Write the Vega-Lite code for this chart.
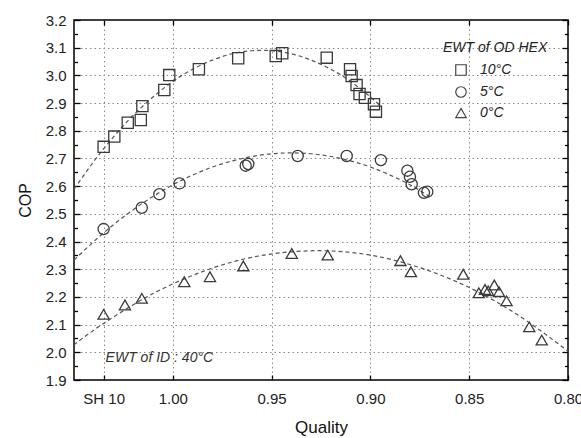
{
  "$schema": "https://vega.github.io/schema/vega-lite/v6.json",
  "width": 494,
  "height": 360,
  "autosize": "none",
  "padding": {"left": 74, "top": 20, "right": 13, "bottom": 58},
  "background": "white",
  "config": {
    "view": {"stroke": "#000", "strokeWidth": 1.5},
    "font": "Liberation Sans",
    "axis": {
      "domain": false,
      "labelFont": "Liberation Sans",
      "labelFontSize": 15,
      "labelColor": "#222",
      "titleFont": "Liberation Sans",
      "titleFontWeight": "normal",
      "titleColor": "#111",
      "tickColor": "#000",
      "tickWidth": 1.3,
      "gridColor": "#8a8a8a",
      "gridDash": [1.5, 3],
      "gridWidth": 1,
      "labelFlush": false,
      "labelOverlap": false,
      "labelBound": false,
      "zindex": 1
    },
    "legend": {
      "titleFont": "Liberation Sans",
      "titleFontStyle": "italic",
      "titleFontWeight": "normal",
      "titleFontSize": 14,
      "titleColor": "#222",
      "labelFont": "Liberation Sans",
      "labelFontStyle": "italic",
      "labelFontSize": 14,
      "labelColor": "#222"
    }
  },
  "datasets": {
    "pts": [
      {"q": 1.035, "cop": 2.742, "EWT": "10°C"},
      {"q": 1.0296, "cop": 2.779, "EWT": "10°C"},
      {"q": 1.0228, "cop": 2.829, "EWT": "10°C"},
      {"q": 1.0162, "cop": 2.839, "EWT": "10°C"},
      {"q": 1.0154, "cop": 2.889, "EWT": "10°C"},
      {"q": 1.0043, "cop": 2.947, "EWT": "10°C"},
      {"q": 1.0018, "cop": 3.001, "EWT": "10°C"},
      {"q": 0.9868, "cop": 3.022, "EWT": "10°C"},
      {"q": 0.9669, "cop": 3.062, "EWT": "10°C"},
      {"q": 0.9479, "cop": 3.07, "EWT": "10°C"},
      {"q": 0.9446, "cop": 3.08, "EWT": "10°C"},
      {"q": 0.9221, "cop": 3.064, "EWT": "10°C"},
      {"q": 0.9103, "cop": 3.022, "EWT": "10°C"},
      {"q": 0.9095, "cop": 2.998, "EWT": "10°C"},
      {"q": 0.907, "cop": 2.965, "EWT": "10°C"},
      {"q": 0.9055, "cop": 2.933, "EWT": "10°C"},
      {"q": 0.9028, "cop": 2.919, "EWT": "10°C"},
      {"q": 0.8982, "cop": 2.896, "EWT": "10°C"},
      {"q": 0.8972, "cop": 2.869, "EWT": "10°C"},
      {"q": 1.035, "cop": 2.445, "EWT": "5°C"},
      {"q": 1.0157, "cop": 2.522, "EWT": "5°C"},
      {"q": 1.0068, "cop": 2.571, "EWT": "5°C"},
      {"q": 0.9966, "cop": 2.61, "EWT": "5°C"},
      {"q": 0.9631, "cop": 2.674, "EWT": "5°C"},
      {"q": 0.9618, "cop": 2.68, "EWT": "5°C"},
      {"q": 0.9368, "cop": 2.709, "EWT": "5°C"},
      {"q": 0.912, "cop": 2.709, "EWT": "5°C"},
      {"q": 0.8947, "cop": 2.694, "EWT": "5°C"},
      {"q": 0.8813, "cop": 2.656, "EWT": "5°C"},
      {"q": 0.88, "cop": 2.634, "EWT": "5°C"},
      {"q": 0.8791, "cop": 2.607, "EWT": "5°C"},
      {"q": 0.8729, "cop": 2.576, "EWT": "5°C"},
      {"q": 0.8712, "cop": 2.58, "EWT": "5°C"},
      {"q": 1.035, "cop": 2.137, "EWT": "0°C"},
      {"q": 1.0242, "cop": 2.171, "EWT": "0°C"},
      {"q": 1.0157, "cop": 2.195, "EWT": "0°C"},
      {"q": 0.9942, "cop": 2.255, "EWT": "0°C"},
      {"q": 0.9812, "cop": 2.273, "EWT": "0°C"},
      {"q": 0.9643, "cop": 2.312, "EWT": "0°C"},
      {"q": 0.9398, "cop": 2.357, "EWT": "0°C"},
      {"q": 0.9216, "cop": 2.351, "EWT": "0°C"},
      {"q": 0.8848, "cop": 2.331, "EWT": "0°C"},
      {"q": 0.8795, "cop": 2.291, "EWT": "0°C"},
      {"q": 0.853, "cop": 2.282, "EWT": "0°C"},
      {"q": 0.8451, "cop": 2.215, "EWT": "0°C"},
      {"q": 0.842, "cop": 2.227, "EWT": "0°C"},
      {"q": 0.8404, "cop": 2.222, "EWT": "0°C"},
      {"q": 0.8373, "cop": 2.243, "EWT": "0°C"},
      {"q": 0.8349, "cop": 2.219, "EWT": "0°C"},
      {"q": 0.8311, "cop": 2.186, "EWT": "0°C"},
      {"q": 0.8196, "cop": 2.092, "EWT": "0°C"},
      {"q": 0.8133, "cop": 2.044, "EWT": "0°C"}
    ],
    "fit": [
      {"q": 1.05, "cop": 2.589, "EWT": "10°C"},
      {"q": 1.04, "cop": 2.689, "EWT": "10°C"},
      {"q": 1.03, "cop": 2.778, "EWT": "10°C"},
      {"q": 1.02, "cop": 2.856, "EWT": "10°C"},
      {"q": 1.01, "cop": 2.922, "EWT": "10°C"},
      {"q": 1.0, "cop": 2.978, "EWT": "10°C"},
      {"q": 0.99, "cop": 3.022, "EWT": "10°C"},
      {"q": 0.98, "cop": 3.055, "EWT": "10°C"},
      {"q": 0.97, "cop": 3.078, "EWT": "10°C"},
      {"q": 0.96, "cop": 3.089, "EWT": "10°C"},
      {"q": 0.95, "cop": 3.089, "EWT": "10°C"},
      {"q": 0.94, "cop": 3.078, "EWT": "10°C"},
      {"q": 0.93, "cop": 3.055, "EWT": "10°C"},
      {"q": 0.92, "cop": 3.022, "EWT": "10°C"},
      {"q": 0.91, "cop": 2.978, "EWT": "10°C"},
      {"q": 0.9, "cop": 2.922, "EWT": "10°C"},
      {"q": 0.895, "cop": 2.89, "EWT": "10°C"},
      {"q": 1.05, "cop": 2.333, "EWT": "5°C"},
      {"q": 1.04, "cop": 2.4, "EWT": "5°C"},
      {"q": 1.03, "cop": 2.461, "EWT": "5°C"},
      {"q": 1.02, "cop": 2.515, "EWT": "5°C"},
      {"q": 1.01, "cop": 2.563, "EWT": "5°C"},
      {"q": 1.0, "cop": 2.605, "EWT": "5°C"},
      {"q": 0.99, "cop": 2.64, "EWT": "5°C"},
      {"q": 0.98, "cop": 2.669, "EWT": "5°C"},
      {"q": 0.97, "cop": 2.691, "EWT": "5°C"},
      {"q": 0.96, "cop": 2.707, "EWT": "5°C"},
      {"q": 0.95, "cop": 2.717, "EWT": "5°C"},
      {"q": 0.94, "cop": 2.72, "EWT": "5°C"},
      {"q": 0.93, "cop": 2.717, "EWT": "5°C"},
      {"q": 0.92, "cop": 2.707, "EWT": "5°C"},
      {"q": 0.91, "cop": 2.691, "EWT": "5°C"},
      {"q": 0.9, "cop": 2.669, "EWT": "5°C"},
      {"q": 0.89, "cop": 2.64, "EWT": "5°C"},
      {"q": 0.88, "cop": 2.605, "EWT": "5°C"},
      {"q": 0.87, "cop": 2.563, "EWT": "5°C"},
      {"q": 1.05, "cop": 2.027, "EWT": "0°C"},
      {"q": 1.04, "cop": 2.08, "EWT": "0°C"},
      {"q": 1.02, "cop": 2.172, "EWT": "0°C"},
      {"q": 1.0, "cop": 2.247, "EWT": "0°C"},
      {"q": 0.98, "cop": 2.304, "EWT": "0°C"},
      {"q": 0.96, "cop": 2.343, "EWT": "0°C"},
      {"q": 0.94, "cop": 2.363, "EWT": "0°C"},
      {"q": 0.92, "cop": 2.366, "EWT": "0°C"},
      {"q": 0.9, "cop": 2.351, "EWT": "0°C"},
      {"q": 0.88, "cop": 2.317, "EWT": "0°C"},
      {"q": 0.86, "cop": 2.266, "EWT": "0°C"},
      {"q": 0.84, "cop": 2.197, "EWT": "0°C"},
      {"q": 0.82, "cop": 2.109, "EWT": "0°C"},
      {"q": 0.8, "cop": 2.004, "EWT": "0°C"}
    ],
    "note": [{"q": 1.034, "cop": 1.98, "label": "EWT of ID : 40°C"}]
  },
  "layer": [
    {
      "data": {"name": "fit"},
      "transform": [{"filter": "datum.EWT == '10°C'"}],
      "mark": {"type": "line", "strokeDash": [4, 3], "color": "#555", "strokeWidth": 1.2, "interpolate": "natural"},
      "encoding": {
        "x": {
          "field": "q", "type": "quantitative",
          "scale": {"domain": [0.8, 1.05], "reverse": true, "nice": false, "zero": false},
          "axis": {
            "orient": "bottom",
            "values": [1.035, 1.0, 0.95, 0.9, 0.85, 0.8],
            "labelExpr": "datum.value > 1.02 ? 'SH 10' : format(datum.value, '.2f')",
            "title": "Quality", "titleFontSize": 17, "titlePadding": 13,
            "offset": -5, "ticks": true, "tickSize": 5, "labelPadding": 11, "grid": false
          }
        },
        "y": {
          "field": "cop", "type": "quantitative",
          "scale": {"domain": [1.9, 3.2], "nice": false, "zero": false},
          "axis": {
            "orient": "left",
            "values": [1.9, 2.0, 2.1, 2.2, 2.3, 2.4, 2.5, 2.6, 2.7, 2.8, 2.9, 3.0, 3.1, 3.2],
            "format": ".1f",
            "title": "COP", "titleFontSize": 16, "titlePadding": 12,
            "offset": -6, "ticks": true, "tickSize": 6, "labelPadding": 8, "grid": false
          }
        }
      }
    },
    {
      "data": {"name": "fit"},
      "transform": [{"filter": "datum.EWT == '5°C'"}],
      "mark": {"type": "line", "strokeDash": [4, 3], "color": "#555", "strokeWidth": 1.2, "interpolate": "natural"},
      "encoding": {
        "x": {
          "field": "q", "type": "quantitative",
          "axis": {"orient": "bottom", "values": [1.035, 1.0, 0.95, 0.9, 0.85], "grid": true, "ticks": false, "labels": false, "title": null, "zindex": 0}
        },
        "y": {
          "field": "cop", "type": "quantitative",
          "axis": {"orient": "left", "values": [2.0, 2.1, 2.2, 2.3, 2.4, 2.5, 2.6, 2.7, 2.8, 2.9, 3.0, 3.1], "grid": true, "ticks": false, "labels": false, "title": null, "zindex": 0}
        }
      }
    },
    {
      "data": {"name": "fit"},
      "transform": [{"filter": "datum.EWT == '0°C'"}],
      "mark": {"type": "line", "strokeDash": [4, 3], "color": "#555", "strokeWidth": 1.2, "interpolate": "natural"},
      "encoding": {
        "x": {
          "field": "q", "type": "quantitative",
          "axis": {"orient": "top", "values": [1.035, 1.0, 0.95, 0.9, 0.85, 0.8], "labels": false, "title": null, "offset": -5, "ticks": true, "tickSize": 5, "grid": false}
        },
        "y": {
          "field": "cop", "type": "quantitative",
          "axis": {"orient": "left", "values": [1.95, 2.05, 2.15, 2.25, 2.35, 2.45, 2.55, 2.65, 2.75, 2.85, 2.95, 3.05, 3.15], "labels": false, "title": null, "offset": -3.5, "ticks": true, "tickSize": 3.5, "grid": false}
        }
      }
    },
    {
      "data": {"name": "pts"},
      "mark": {"type": "point", "filled": false, "size": 125, "strokeWidth": 1.3, "color": "#3a3a3a", "opacity": 1},
      "encoding": {
        "x": {"field": "q", "type": "quantitative", "axis": null},
        "y": {
          "field": "cop", "type": "quantitative",
          "axis": {"orient": "right", "values": [1.9, 2.0, 2.1, 2.2, 2.3, 2.4, 2.5, 2.6, 2.7, 2.8, 2.9, 3.0, 3.1, 3.2], "labels": false, "title": null, "offset": -6, "ticks": true, "tickSize": 6, "grid": false}
        },
        "shape": {
          "field": "EWT", "type": "nominal",
          "scale": {"domain": ["10°C", "5°C", "0°C"], "range": ["square", "circle", "triangle-up"]},
          "legend": {
            "title": "EWT of OD HEX",
            "orient": "none", "legendX": 369, "legendY": 21,
            "padding": 0, "titlePadding": 8,
            "symbolOffset": 11, "labelOffset": 12, "rowPadding": 6,
            "symbolSize": 110, "symbolStrokeWidth": 1.2, "symbolStrokeColor": "#444",
            "labelExpr": "datum.label == '10°C' ? datum.label : '\u2007' + datum.label"
          }
        }
      }
    },
    {
      "data": {"name": "note"},
      "mark": {"type": "text", "align": "left", "baseline": "middle", "fontStyle": "italic", "fontSize": 14, "font": "Liberation Sans", "color": "#333"},
      "encoding": {
        "x": {"field": "q", "type": "quantitative", "axis": null},
        "y": {
          "field": "cop", "type": "quantitative",
          "axis": {"orient": "right", "values": [1.95, 2.05, 2.15, 2.25, 2.35, 2.45, 2.55, 2.65, 2.75, 2.85, 2.95, 3.05, 3.15], "labels": false, "title": null, "offset": -3.5, "ticks": true, "tickSize": 3.5, "grid": false}
        },
        "text": {"field": "label"}
      }
    }
  ],
  "resolve": {"axis": {"x": "independent", "y": "independent"}}
}
